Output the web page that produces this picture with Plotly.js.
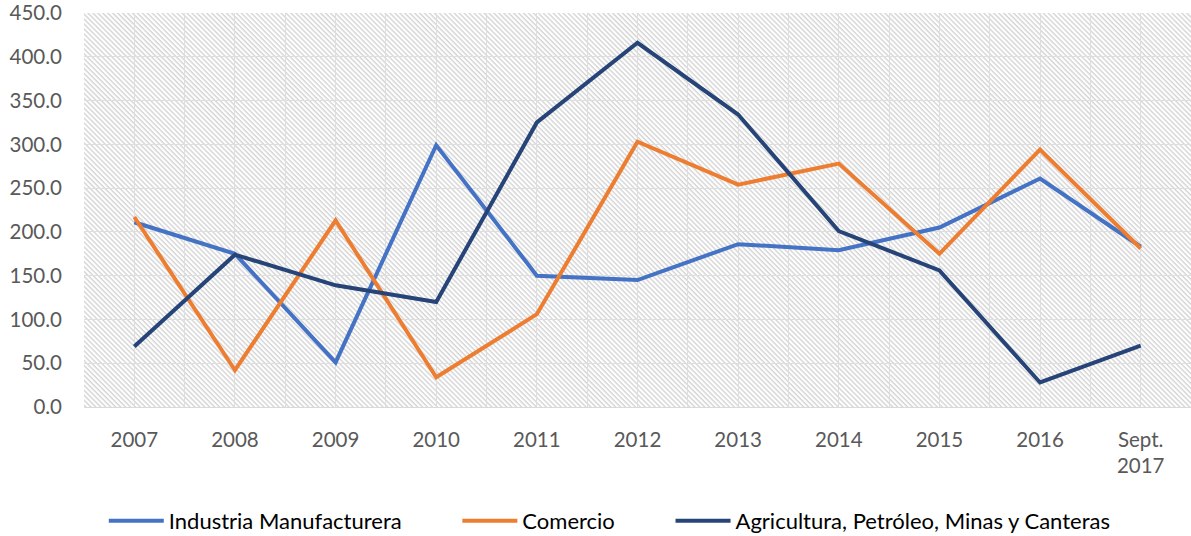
<!DOCTYPE html>
<html>
<head>
<meta charset="utf-8">
<script src="https://cdn.plot.ly/plotly-3.0.1.min.js"></script>
<style>html,body{margin:0;padding:0;background:#fff;}#chart{width:1191px;height:536px;}</style>
</head>
<body>
<div id="chart"></div>
<script>
var categories = ["2007","2008","2009","2010","2011","2012","2013","2014","2015","2016","Sept.<br>2017"];
var industria = [211, 175, 51, 299, 150, 145, 186, 179, 205, 261, 183];
var comercio = [217, 42, 213, 34, 106, 303, 254, 278, 175, 294, 181];
var agricultura = [69, 174, 139, 120, 325, 416, 334, 201, 156, 28, 70];
var seriesNames = ["Industria Manufacturera", "Comercio", "Agricultura, Petróleo, Minas y Canteras"];
var yTickValues = [0, 50, 100, 150, 200, 250, 300, 350, 400, 450];

var idx = categories.map(function(c, i){ return i; });
var colors = ["#4472C4", "#ED7D31", "#264478"];
var FONT = "Lato, 'Liberation Sans', sans-serif";
var PAD = "\u00a0\u00a0\u00a0\u00a0\u00a0\u00a0\u00a0\u00a0\u00a0";

function mk(y, name, color){
  return {x: idx, y: y, name: name, type: "scatter", mode: "lines",
          line: {color: color, width: 4, shape: "linear"}, hoverinfo: "skip"};
}
var traces = [
  mk(industria, seriesNames[0] + PAD, colors[0]),
  mk(comercio, seriesNames[1] + PAD, colors[1]),
  mk(agricultura, seriesNames[2], colors[2])
];

var W = 1191, H = 536, ML = 84, MR = 0, MT = 13, MB = 129;
var pw = W - ML - MR, ph = H - MT - MB;
var svg = '<svg xmlns="http://www.w3.org/2000/svg" width="' + pw + '" height="' + ph + '" viewBox="0 0 ' + pw + ' ' + ph + '" preserveAspectRatio="none">' +
  '<defs><pattern id="p" width="3.5" height="3.5" patternUnits="userSpaceOnUse" patternTransform="rotate(45)">' +
  '<rect x="0" y="0" width="3.5" height="1.4" fill="#d4d4d4"/></pattern></defs>' +
  '<rect width="100%" height="100%" fill="#ffffff"/><rect width="100%" height="100%" fill="url(#p)"/></svg>';
var src = "data:image/svg+xml;charset=utf-8," + encodeURIComponent(svg);

var layout = {
  width: W, height: H,
  margin: {l: ML, r: MR, t: MT, b: MB, pad: 0},
  paper_bgcolor: "#ffffff",
  plot_bgcolor: "rgba(0,0,0,0)",
  font: {family: FONT, size: 20, color: "#595959"},
  showlegend: true,
  images: [{source: src, xref: "paper", yref: "paper", x: 0, y: 1, sizex: 1, sizey: 1,
            xanchor: "left", yanchor: "top", sizing: "stretch", layer: "below"}],
  xaxis: {
    type: "linear", range: [-0.5, 10.5], fixedrange: true,
    tickmode: "array", tickvals: idx, ticktext: categories,
    ticks: "", ticklabelstandoff: 14,
    showgrid: true, gridcolor: "#dedede", gridwidth: 1,
    minor: {tickmode: "linear", tick0: -0.5, dtick: 1, showgrid: true, gridcolor: "#dedede", gridwidth: 1, ticks: ""},
    zeroline: false, showline: true, linecolor: "#d9d9d9", linewidth: 1,
    tickfont: {family: FONT, size: 20.5, color: "#595959"}
  },
  yaxis: {
    range: [0, 450], fixedrange: true,
    tickmode: "array", tickvals: yTickValues,
    tickformat: ".1f", ticks: "", ticklabelstandoff: 21,
    showgrid: true, gridcolor: "#dedede", gridwidth: 1,
    zeroline: false, showline: false,
    tickfont: {family: FONT, size: 20.5, color: "#595959"}
  },
  legend: {
    orientation: "h", xref: "container", yref: "container",
    x: 0.512, xanchor: "center", y: 0.028, yanchor: "middle",
    itemwidth: 55,
    font: {family: FONT, size: 22, color: "#000000"},
    bgcolor: "rgba(0,0,0,0)", itemclick: false, itemdoubleclick: false
  }
};

Plotly.newPlot("chart", traces, layout, {displayModeBar: false, staticPlot: true});
</script>
</body>
</html>
